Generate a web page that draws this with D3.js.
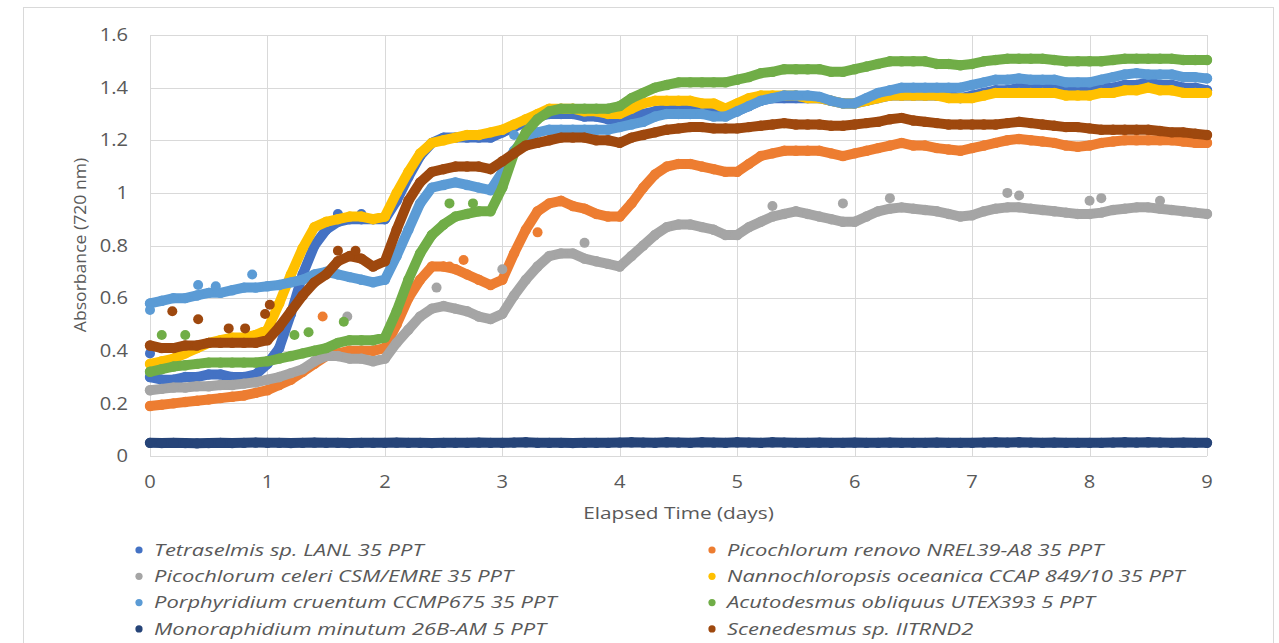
<!DOCTYPE html>
<html>
<head>
<meta charset="utf-8">
<script src="https://cdn.jsdelivr.net/npm/d3@7/dist/d3.min.js"></script>
<style>
  body { margin: 0; background: #fff; }
  text { font-family: "Open Sans", sans-serif; fill: #595959; }
</style>
</head>
<body>
<script>
// sample times (days), one reading every 0.1 day
var days = d3.range(0, 91).map(function (i) { return i / 10; });

var xTicks = [0, 1, 2, 3, 4, 5, 6, 7, 8, 9];
var yTicks = [0, 0.2, 0.4, 0.6, 0.8, 1, 1.2, 1.4, 1.6];

var names = [
  'Tetraselmis sp. LANL 35 PPT',
  'Picochlorum renovo NREL39-A8 35 PPT',
  'Picochlorum celeri CSM/EMRE 35 PPT',
  'Nannochloropsis oceanica CCAP 849/10 35 PPT',
  'Porphyridium cruentum CCMP675 35 PPT',
  'Acutodesmus obliquus UTEX393 5 PPT',
  'Monoraphidium minutum 26B-AM 5 PPT',
  'Scenedesmus sp. IITRND2'
];
var colors = ['#4472C4', '#ED7D31', '#A5A5A5', '#FFC000', '#5B9BD5', '#70AD47', '#264478', '#9E480E'];

var tetraselmis = [0.30,0.29,0.29,0.30,0.30,0.31,0.31,0.30,0.30,0.31,
  0.35,0.41,0.54,0.69,0.80,0.86,0.89,0.90,0.90,0.90,
  0.90,0.97,1.06,1.14,1.19,1.21,1.21,1.21,1.21,1.21,
  1.23,1.25,1.27,1.29,1.30,1.30,1.30,1.29,1.29,1.28,
  1.28,1.29,1.30,1.31,1.32,1.32,1.32,1.32,1.31,1.30,
  1.31,1.33,1.35,1.36,1.36,1.36,1.36,1.36,1.35,1.34,
  1.34,1.35,1.36,1.37,1.37,1.37,1.37,1.37,1.37,1.36,
  1.37,1.38,1.39,1.39,1.40,1.40,1.40,1.40,1.39,1.39,
  1.39,1.40,1.40,1.41,1.41,1.42,1.41,1.41,1.40,1.40,1.39];

var renovo = [0.19,0.195,0.20,0.205,0.21,0.215,0.22,0.225,0.23,0.24,
  0.25,0.27,0.29,0.32,0.35,0.38,0.39,0.40,0.40,0.40,
  0.41,0.50,0.60,0.67,0.72,0.72,0.71,0.69,0.67,0.65,
  0.67,0.77,0.86,0.93,0.96,0.97,0.95,0.94,0.92,0.91,
  0.91,0.96,1.02,1.07,1.10,1.11,1.11,1.10,1.09,1.08,
  1.08,1.11,1.14,1.15,1.16,1.16,1.16,1.16,1.15,1.14,
  1.15,1.16,1.17,1.18,1.19,1.18,1.18,1.17,1.165,1.16,
  1.17,1.18,1.19,1.20,1.205,1.20,1.195,1.19,1.18,1.175,
  1.18,1.19,1.195,1.20,1.20,1.20,1.20,1.20,1.195,1.19,1.19];

var celeri = [0.25,0.255,0.26,0.26,0.265,0.265,0.27,0.27,0.275,0.28,
  0.29,0.30,0.315,0.33,0.36,0.38,0.38,0.37,0.37,0.36,
  0.37,0.43,0.48,0.53,0.56,0.57,0.56,0.55,0.53,0.52,
  0.54,0.61,0.67,0.72,0.76,0.77,0.77,0.75,0.74,0.73,
  0.72,0.76,0.80,0.84,0.87,0.88,0.88,0.87,0.86,0.84,
  0.84,0.87,0.89,0.91,0.92,0.93,0.92,0.91,0.90,0.89,
  0.89,0.91,0.93,0.94,0.945,0.94,0.935,0.93,0.92,0.91,
  0.915,0.93,0.94,0.945,0.945,0.94,0.935,0.93,0.925,0.92,
  0.92,0.925,0.935,0.94,0.945,0.945,0.94,0.935,0.93,0.925,0.92];

var nannochloropsis = [0.35,0.36,0.37,0.39,0.41,0.43,0.44,0.45,0.45,0.46,
  0.48,0.58,0.69,0.79,0.87,0.89,0.90,0.91,0.91,0.90,
  0.91,1.00,1.08,1.15,1.19,1.20,1.21,1.22,1.22,1.23,
  1.24,1.26,1.28,1.30,1.32,1.32,1.32,1.31,1.31,1.30,
  1.30,1.32,1.34,1.35,1.35,1.35,1.35,1.34,1.34,1.32,
  1.34,1.36,1.37,1.37,1.37,1.37,1.36,1.36,1.35,1.34,
  1.34,1.35,1.36,1.37,1.37,1.37,1.37,1.37,1.36,1.36,
  1.36,1.37,1.38,1.38,1.38,1.38,1.38,1.38,1.37,1.37,
  1.37,1.38,1.38,1.39,1.39,1.40,1.39,1.39,1.38,1.38,1.38];

var porphyridium = [0.58,0.59,0.60,0.60,0.61,0.62,0.62,0.63,0.64,0.64,
  0.645,0.65,0.66,0.67,0.69,0.70,0.69,0.68,0.67,0.66,
  0.67,0.76,0.86,0.96,1.02,1.03,1.04,1.03,1.02,1.01,
  1.08,1.16,1.21,1.23,1.24,1.24,1.24,1.24,1.24,1.24,
  1.25,1.26,1.27,1.29,1.30,1.30,1.30,1.30,1.29,1.29,
  1.31,1.33,1.35,1.36,1.37,1.37,1.37,1.365,1.35,1.34,
  1.34,1.36,1.38,1.39,1.40,1.40,1.40,1.40,1.40,1.40,
  1.41,1.42,1.43,1.43,1.435,1.43,1.43,1.43,1.42,1.42,
  1.42,1.43,1.44,1.45,1.455,1.45,1.45,1.45,1.44,1.44,1.435];

var acutodesmus = [0.32,0.33,0.34,0.345,0.35,0.355,0.355,0.355,0.355,0.355,
  0.36,0.37,0.38,0.39,0.40,0.41,0.43,0.44,0.44,0.44,
  0.45,0.55,0.67,0.77,0.84,0.88,0.91,0.92,0.93,0.93,
  1.02,1.15,1.23,1.28,1.31,1.32,1.32,1.32,1.32,1.32,
  1.33,1.36,1.38,1.40,1.41,1.42,1.42,1.42,1.42,1.42,
  1.43,1.44,1.455,1.46,1.47,1.47,1.47,1.47,1.46,1.46,
  1.47,1.48,1.49,1.50,1.50,1.50,1.50,1.49,1.49,1.485,
  1.49,1.50,1.505,1.51,1.51,1.51,1.51,1.505,1.50,1.50,
  1.50,1.50,1.505,1.51,1.51,1.51,1.51,1.51,1.505,1.505,1.505];

var monoraphidium = [0.050,0.049,0.050,0.049,0.048,0.049,0.050,0.049,0.050,0.051,
  0.050,0.050,0.049,0.050,0.051,0.050,0.050,0.049,0.050,0.050,
  0.050,0.051,0.050,0.050,0.049,0.050,0.050,0.050,0.051,0.050,
  0.050,0.051,0.052,0.050,0.050,0.050,0.049,0.050,0.050,0.050,
  0.051,0.052,0.051,0.050,0.052,0.051,0.050,0.052,0.051,0.050,
  0.052,0.051,0.050,0.052,0.051,0.050,0.050,0.051,0.050,0.050,
  0.051,0.050,0.050,0.051,0.050,0.050,0.050,0.051,0.050,0.050,
  0.050,0.051,0.052,0.051,0.052,0.051,0.050,0.051,0.050,0.050,
  0.050,0.050,0.051,0.052,0.051,0.052,0.051,0.050,0.051,0.050,0.050];

var scenedesmus = [0.42,0.41,0.41,0.42,0.42,0.43,0.43,0.43,0.43,0.43,
  0.44,0.49,0.55,0.61,0.66,0.69,0.74,0.76,0.75,0.72,
  0.74,0.86,0.97,1.04,1.08,1.09,1.10,1.10,1.10,1.09,
  1.12,1.15,1.18,1.19,1.20,1.21,1.21,1.21,1.20,1.20,
  1.19,1.21,1.22,1.23,1.24,1.245,1.25,1.25,1.245,1.245,
  1.245,1.25,1.255,1.26,1.265,1.26,1.26,1.26,1.255,1.255,
  1.26,1.265,1.27,1.28,1.285,1.275,1.27,1.265,1.26,1.26,
  1.26,1.26,1.26,1.265,1.27,1.265,1.26,1.255,1.25,1.25,
  1.245,1.24,1.24,1.24,1.24,1.24,1.235,1.23,1.23,1.225,1.22];

// stray readings that sit off the main trace: [day, absorbance]
var tetraselmisStray = [[0, 0.39], [1.6, 0.92], [1.8, 0.92]];
var renovoStray = [[1.47, 0.53], [2.67, 0.745], [2.55, 0.72], [3.3, 0.85]];
var celeriStray = [[1.68, 0.53], [2.44, 0.64], [3.7, 0.81], [3.0, 0.71], [5.3, 0.95], [5.9, 0.96], [6.3, 0.98], [7.3, 1.0], [7.4, 0.99], [8.1, 0.98], [8.0, 0.97], [8.6, 0.97]];
var porphyridiumStray = [[0, 0.555], [0.41, 0.65], [0.56, 0.645], [0.87, 0.69], [3.1, 1.22], [3.5, 1.23]];
var acutodesmusStray = [[0.1, 0.46], [0.3, 0.46], [1.23, 0.46], [1.35, 0.47], [1.65, 0.51], [2.55, 0.96], [2.75, 0.96]];
var scenedesmusStray = [[0.19, 0.55], [0.41, 0.52], [0.67, 0.485], [0.81, 0.485], [0.98, 0.54], [1.02, 0.575], [1.6, 0.78], [1.75, 0.78]];

var series = [tetraselmis, renovo, celeri, nannochloropsis, porphyridium, acutodesmus, monoraphidium, scenedesmus];
var strays = [tetraselmisStray, renovoStray, celeriStray, [], porphyridiumStray, acutodesmusStray, [], scenedesmusStray];

var W = 1279, H = 643;
var pLeft = 150, pRight = 1207, pTop = 35, pBottom = 456;

var svg = d3.select('body').append('svg')
    .attr('width', W)
    .attr('height', H);

svg.append('rect')
    .attr('x', 23.5)
    .attr('y', 7.5)
    .attr('width', 1250)
    .attr('height', 660)
    .attr('fill', '#fff')
    .attr('stroke', '#D9D9D9');

var x = d3.scaleLinear().domain([0, 9]).range([pLeft, pRight]);
var y = d3.scaleLinear().domain([0, 1.6]).range([pBottom, pTop]);

// grid
svg.append('g').selectAll('line')
    .data(yTicks)
    .enter().append('line')
    .attr('x1', pLeft).attr('x2', pRight)
    .attr('y1', function (d) { return Math.round(y(d)) + 0.5; })
    .attr('y2', function (d) { return Math.round(y(d)) + 0.5; })
    .attr('stroke', '#D9D9D9');

svg.append('g').selectAll('line')
    .data(xTicks)
    .enter().append('line')
    .attr('y1', pTop).attr('y2', pBottom)
    .attr('x1', function (d) { return Math.round(x(d)) + 0.5; })
    .attr('x2', function (d) { return Math.round(x(d)) + 0.5; })
    .attr('stroke', '#D9D9D9');

// tick labels, widened a little like the source
var fmt = d3.format('~g');
svg.append('g').selectAll('text')
    .data(yTicks)
    .enter().append('text')
    .attr('transform', function (d) { return 'translate(' + (pLeft - 22) + ',' + y(d) + ') scale(1.15,1)'; })
    .attr('text-anchor', 'end')
    .attr('dy', '0.35em')
    .style('font-size', '17.5px')
    .text(fmt);

svg.append('g').selectAll('text')
    .data(xTicks)
    .enter().append('text')
    .attr('transform', function (d) { return 'translate(' + x(d) + ',' + (pBottom + 26) + ') scale(1.15,1)'; })
    .attr('text-anchor', 'middle')
    .attr('dy', '0.35em')
    .style('font-size', '17.5px')
    .text(fmt);

svg.append('text')
    .attr('transform', 'translate(' + ((pLeft + pRight) / 2) + ',513) scale(1.3,1)')
    .attr('text-anchor', 'middle')
    .attr('dy', '0.35em')
    .style('font-size', '16px')
    .text('Elapsed Time (days)');

svg.append('text')
    .attr('transform', 'translate(80,245) rotate(-90) scale(1.1,1)')
    .attr('text-anchor', 'middle')
    .attr('dy', '0.35em')
    .style('font-size', '16px')
    .text('Absorbance (720 nm)');

// data
var line = d3.line()
    .x(function (d, i) { return x(days[i]); })
    .y(function (d) { return y(d); });

var plot = svg.append('g');
series.forEach(function (vals, k) {
  var g = plot.append('g');
  g.append('path')
      .datum(vals)
      .attr('d', line)
      .attr('fill', 'none')
      .attr('stroke', colors[k])
      .attr('stroke-width', 10)
      .attr('stroke-linecap', 'round')
      .attr('stroke-linejoin', 'round');
  g.selectAll('circle.p')
      .data(vals)
      .enter().append('circle')
      .attr('cx', function (d, i) { return x(days[i]); })
      .attr('cy', function (d) { return y(d); })
      .attr('r', 5.2)
      .attr('fill', colors[k]);
  g.selectAll('circle.s')
      .data(strays[k])
      .enter().append('circle')
      .attr('cx', function (d) { return x(d[0]); })
      .attr('cy', function (d) { return y(d[1]); })
      .attr('r', 5)
      .attr('fill', colors[k]);
});

// legend: two columns, filled row by row
var legend = svg.append('g');
names.forEach(function (n, k) {
  var col = k % 2, row = Math.floor(k / 2);
  var lx = col === 0 ? 139 : 712;
  var ly = 550 + row * 26.3;
  legend.append('circle')
      .attr('cx', lx).attr('cy', ly).attr('r', 3.6)
      .attr('fill', colors[k]);
  legend.append('text')
      .attr('transform', 'translate(' + (lx + 15) + ',' + ly + ') scale(1.33,1)')
      .attr('dy', '0.35em')
      .style('font-size', '16.5px')
      .style('font-style', 'italic')
      .text(n);
});
</script>
</body>
</html>
